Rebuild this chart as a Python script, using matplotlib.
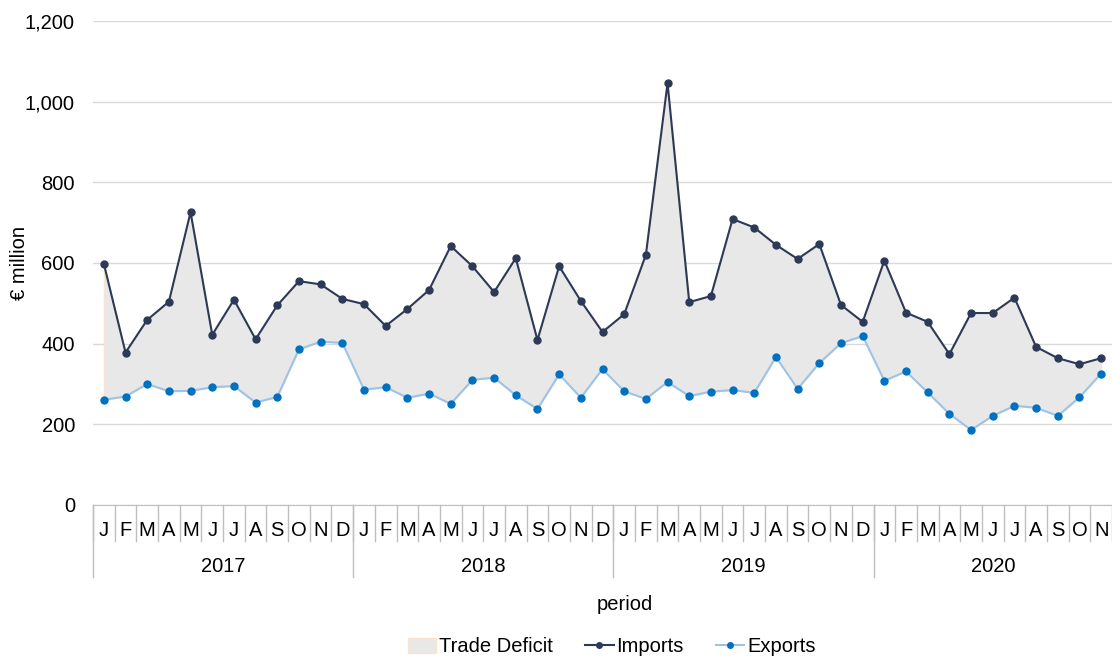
import matplotlib
matplotlib.use("Agg")
import matplotlib.pyplot as plt
from matplotlib.patches import Patch
from matplotlib.lines import Line2D
from matplotlib.ticker import FuncFormatter

plt.rcParams["font.family"] = ["Liberation Sans", "DejaVu Sans"]

# monthly values, Jan 2017 - Nov 2020 (EUR million)
months = list("JFMAMJJASOND") * 3 + list("JFMAMJJASON")
years = ["2017", "2018", "2019", "2020"]
year_lengths = [12, 12, 12, 11]

imports = [598, 378, 459, 504, 726, 422, 509, 411, 495, 555, 547, 511,
           498, 444, 486, 533, 642, 592, 528, 612, 409, 592, 506, 429,
           473, 620, 1046, 503, 518, 709, 688, 645, 610, 647, 496, 454,
           606, 477, 454, 374, 476, 476, 514, 392, 364, 349, 364]
exports = [261, 269, 300, 282, 283, 292, 295, 254, 268, 386, 405, 402,
           286, 292, 266, 276, 251, 310, 316, 272, 238, 324, 266, 337,
           282, 263, 305, 270, 281, 285, 278, 367, 288, 352, 401, 419,
           308, 331, 279, 226, 186, 221, 246, 241, 221, 267, 326]

x = list(range(len(months)))
fs = 14.5

fig = plt.figure(figsize=(11.12, 6.57), dpi=100)
ax = fig.add_axes([93 / 1112, 152 / 657, 1 - 93 / 1112, 484 / 657])

ax.fill_between(x, exports, imports, facecolor="#e8e8e8", edgecolor="#fbe3d2",
                linewidth=0.8, zorder=1)
ax.plot(x, imports, color="#2c3a57", linewidth=1.5, marker="o", markersize=5, zorder=3)
ax.plot(x, exports, color="#9dc3e6", linewidth=1.5, marker="o", markersize=5,
        markerfacecolor="#0070c0", markeredgecolor="#0070c0", zorder=3)

ax.set_xlim(-0.5, len(months) - 0.5)
ax.set_ylim(0, 1200)
ax.set_yticks(range(0, 1201, 200))
ax.yaxis.set_major_formatter(FuncFormatter(lambda v, p: f"{int(v):,}"))
ax.grid(axis="y", color="#d9d9d9", linewidth=1)
ax.set_axisbelow(True)
for s in ["top", "right", "left"]:
    ax.spines[s].set_visible(False)
ax.spines["bottom"].set_color("#bfbfbf")
ax.tick_params(axis="y", length=0, labelsize=fs, pad=13)
ax.set_xticks([])

# category axis: month cells and year groups
tr = ax.get_xaxis_transform()
for i in range(len(months) + 1):
    ax.plot([i - 0.5, i - 0.5], [0, -0.075], color="#bfbfbf", linewidth=1,
            transform=tr, clip_on=False)
for i, m in enumerate(months):
    ax.text(i, -0.052, m, transform=tr, ha="center", va="center", fontsize=fs)
start = 0
for yr, n in zip(years, year_lengths):
    ax.plot([start - 0.5, start - 0.5], [0, -0.149], color="#bfbfbf", linewidth=1,
            transform=tr, clip_on=False)
    ax.text(start + (n - 1) / 2, -0.128, yr, transform=tr, ha="center", va="center",
            fontsize=fs)
    start += n

ax.set_ylabel("€ million", fontsize=fs)
ax.yaxis.set_label_coords(-0.063, 0.5)
fig.text(625 / 1112, 1 - 605 / 657, "period", ha="center", va="center", fontsize=fs)

handles = [Patch(facecolor="#e8e8e8", edgecolor="#fbe3d2", label="Trade Deficit"),
           Line2D([], [], color="#2c3a57", linewidth=1.5, marker="o", markersize=4,
                  label="Imports"),
           Line2D([], [], color="#9dc3e6", linewidth=1.5, marker="o", markersize=4,
                  markerfacecolor="#0070c0", markeredgecolor="#0070c0", label="Exports")]
fig.legend(handles=handles, loc="center", bbox_to_anchor=(612 / 1112, 1 - 647 / 657),
           ncol=3, frameon=False, fontsize=fs, handlelength=1.4, handletextpad=0.15,
           columnspacing=1.6)

fig.savefig("out.png", dpi=100)
